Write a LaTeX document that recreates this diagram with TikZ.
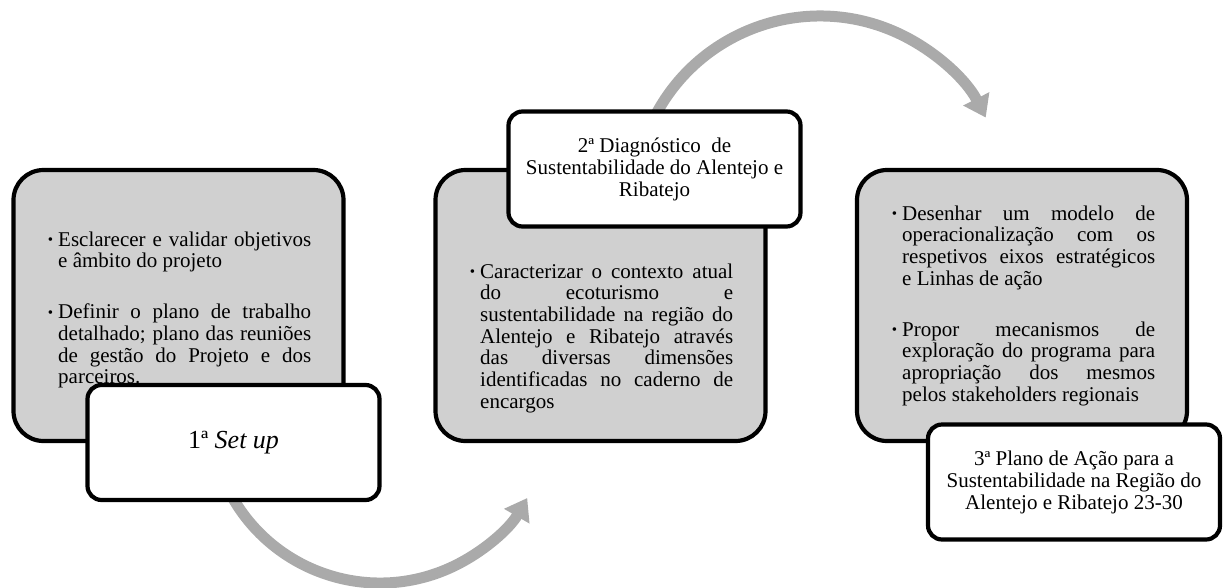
\documentclass[tikz,border=0pt]{standalone}
\usepackage{fontspec}
\setmainfont{Liberation Serif}
\usetikzlibrary{arrows.meta,calc}

\definecolor{panelfill}{RGB}{208,208,208}
\definecolor{arcfill}{RGB}{170,170,170}

% small bullet hung in the left margin of a paragraph
\newcommand{\bul}{\leavevmode\llap{{\fontsize{15}{15}\selectfont\raisebox{1.5pt}{•}}\hspace{5pt}}}
\newcommand{\bodyfont}{\fontsize{21}{21.7}\selectfont}
\newcommand{\bodysetup}{\setlength{\parskip}{29.3pt}\tolerance=10000\hbadness=10000\emergencystretch=20pt}

\begin{document}
\begin{tikzpicture}[x=1pt,y=-1pt,
  graybox/.style={draw=black, line width=4.2pt, fill=panelfill,
    rounded corners=30pt, minimum width=330pt, minimum height=271pt, inner sep=0pt},
  titlebox/.style={draw=black, line width=4.2pt, fill=white,
    rounded corners=14pt, minimum width=292pt, minimum height=115pt,
    inner sep=0pt, align=center, font=\fontsize{21}{22}\selectfont},
  bodytext/.style={anchor=base west, inner sep=0pt, text width=253pt,
    align=justify, font=\bodyfont},
  flowarc/.style={draw=arcfill, line width=11pt,
    -{Triangle[length=21pt,width=28pt]}}
]
\useasboundingbox (0,0) rectangle (1223,587);

% grey panels with their bullet lists
\node[graybox] (p1) at (178.5,305.5) {};
\node[graybox] (p2) at (600.5,305.5) {};
\node[graybox] (p3) at (1022,305.5) {};

\node[bodytext] (t1) at (58,246) {\bodysetup
  \bul Esclarecer e validar objetivos\linebreak e âmbito do projeto\par
  \bul Definir o plano de trabalho\linebreak detalhado; plano das reuniões\linebreak de gestão do Projeto e dos\linebreak parceiros.};

\node[bodytext] (t2) at (480,278) {\bodysetup
  \bul Caracterizar o contexto atual\linebreak do ecoturismo e\linebreak sustentabilidade na região do\linebreak Alentejo e Ribatejo através\linebreak das diversas dimensões\linebreak identificadas no caderno de\linebreak encargos};

\node[bodytext] (t3) at (902,220) {\bodysetup
  \bul Desenhar um modelo de\linebreak operacionalização com os\linebreak respetivos eixos estratégicos\linebreak e Linhas de ação\par
  \bul Propor mecanismos de\linebreak exploração do programa para\linebreak apropriação dos mesmos\linebreak pelos stakeholders regionais};

% curved arrows linking the stages
\coordinate (bc) at (380,413);
\coordinate (tc) at (820,202);
\draw[flowarc] ($(bc)+(155:170)$) arc[start angle=155, end angle=30, radius=170];
\draw[flowarc] ($(tc)+(205:186)$) arc[start angle=205, end angle=333, radius=186];

% white stage titles
\node[titlebox, font=\fontsize{26}{28}\selectfont] (s1) at (233.5,442.5) {1ª \textit{Set up}};
\node[titlebox] (s2) at (654.5,169) {2ª Diagnóstico~ de\\Sustentabilidade do Alentejo e\\Ribatejo};
\node[titlebox] (s3) at (1074,482) {3ª Plano de Ação para a\\Sustentabilidade na Região do\\Alentejo e Ribatejo 23-30};
\end{tikzpicture}
\end{document}
